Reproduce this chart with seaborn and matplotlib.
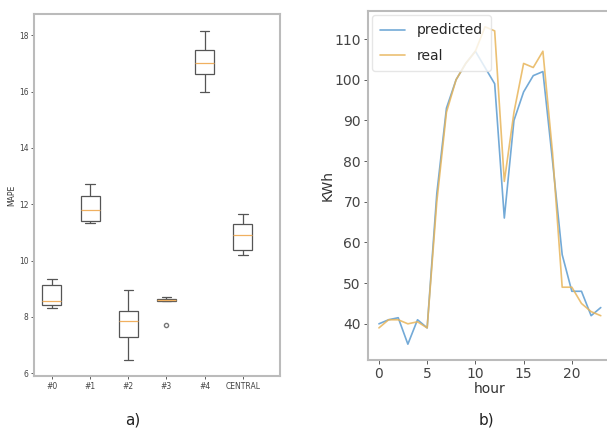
import matplotlib
matplotlib.use("Agg")
import matplotlib.pyplot as plt
import seaborn as sns
import pandas as pd

# panel a) MAPE per site (5 runs each)
groups = ['#0', '#1', '#2', '#3', '#4', 'CENTRAL']
mape_0 = [8.30, 8.41, 8.55, 9.12, 9.35]
mape_1 = [11.35, 11.42, 11.80, 12.29, 12.73]
mape_2 = [6.45, 7.30, 7.85, 8.20, 8.95]
mape_3 = [7.72, 8.55, 8.60, 8.65, 8.70]
mape_4 = [16.00, 16.63, 17.00, 17.47, 18.14]
mape_central = [10.20, 10.37, 10.90, 11.30, 11.67]

# panel b) hourly consumption
hours = list(range(24))
predicted = [40, 41, 41.5, 35, 41, 39, 72, 93, 100, 104, 107, 103,
             99, 66, 90, 97, 101, 102, 80, 57, 48, 48, 42, 44]
real = [39, 41, 41, 40, 40.5, 39, 70, 92, 100, 104, 107, 113,
        112, 75, 92, 104, 103, 107, 82, 49, 49, 45, 43, 42]

sns.set_theme(style="ticks")
plt.rcParams['font.family'] = ['DejaVu Sans']

rows = []
for g, vals in zip(groups, [mape_0, mape_1, mape_2, mape_3, mape_4, mape_central]):
    for v in vals:
        rows.append({'site': g, 'MAPE': v})
df_box = pd.DataFrame(rows)

df_line = pd.DataFrame({'hour': hours, 'predicted': predicted, 'real': real})
df_line = df_line.melt(id_vars='hour', var_name='series', value_name='KWh')

fig = plt.figure(figsize=(6.07, 4.38), dpi=100)
ax1 = fig.add_axes([0.056, 0.1416, 0.405, 0.826])
ax2 = fig.add_axes([0.606, 0.178, 0.402, 0.797])

# boxplot
sns.boxplot(data=df_box, x='site', y='MAPE', ax=ax1, width=0.5,
            color='white', linecolor='#555555', linewidth=0.9,
            medianprops={'color': '#f0b060'},
            flierprops={'marker': 'o', 'markersize': 3,
                        'markerfacecolor': 'none', 'markeredgecolor': '#777777'})
ax1.set_xlim(-0.47, 5.97)
ax1.set_ylim(5.9, 18.75)
ax1.set_yticks([6, 8, 10, 12, 14, 16, 18])
ax1.set_xlabel('')
ax1.set_ylabel('MAPE', fontsize=5.5, color='#333333', labelpad=2)
ax1.tick_params(labelsize=5.5, length=2, width=0.6, colors='#444444', pad=2)

# line plot
sns.lineplot(data=df_line, x='hour', y='KWh', hue='series', ax=ax2,
             palette={'predicted': '#5b9bd0', 'real': '#e8b55a'},
             linewidth=1.2, alpha=0.85)
ax2.set_xticks([0, 5, 10, 15, 20])
ax2.set_yticks([40, 50, 60, 70, 80, 90, 100, 110])
ax2.set_xlabel('hour', fontsize=10, color='#333333', labelpad=1)
ax2.set_ylabel('KWh', fontsize=10, color='#333333', labelpad=0)
ax2.tick_params(labelsize=10, length=3, width=0.6, colors='#444444', pad=2)
leg = ax2.legend(loc='upper left', fontsize=10, frameon=True, handlelength=1.8,
                 borderaxespad=0.3, borderpad=0.6, labelspacing=0.8, title=None)
leg.get_frame().set_edgecolor('#e0e0e0')

for ax in (ax1, ax2):
    for s in ax.spines.values():
        s.set_visible(True)
        s.set_color('#bbbbbb')
        s.set_linewidth(1.5)

fig.text(0.219, 0.03, 'a)', fontsize=11, ha='center', color='#222222')
fig.text(0.802, 0.03, 'b)', fontsize=11, ha='center', color='#222222')

fig.savefig('out.png', dpi=100)
